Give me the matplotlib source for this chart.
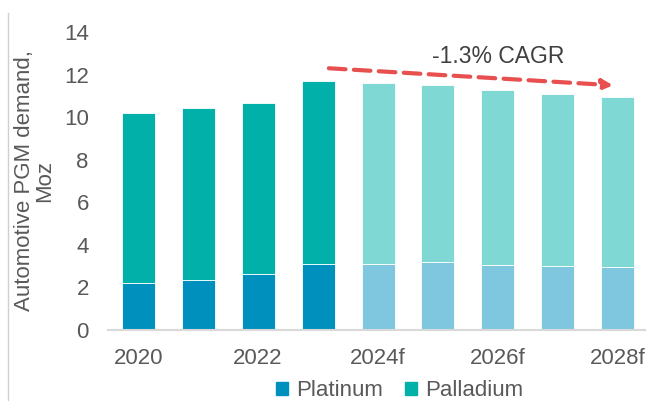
import matplotlib
matplotlib.use("Agg")
import matplotlib.pyplot as plt
from matplotlib.lines import Line2D
from matplotlib.patches import Patch

plt.rcParams['font.family'] = ['Liberation Sans', 'DejaVu Sans']

# data
years = ["2020", "2021", "2022", "2023", "2024f", "2025f", "2026f", "2027f", "2028f"]
platinum = [2.2, 2.37, 2.65, 3.12, 3.12, 3.18, 3.07, 3.03, 2.98]
total = [10.18, 10.45, 10.68, 11.72, 11.62, 11.49, 11.28, 11.1, 10.93]
palladium = [t - p for t, p in zip(total, platinum)]
forecast = [False, False, False, False, True, True, True, True, True]
tick_labels = ["2020", "", "2022", "", "2024f", "", "2026f", "", "2028f"]
cagr_label = "-1.3% CAGR"

pt_col, pt_light = "#0090be", "#7fc7de"
pd_col, pd_light = "#00b0a9", "#7fd8d4"
grey = "#595959"

fig = plt.figure(figsize=(6.52, 4.01), dpi=100)
ax = fig.add_axes([0.166, 0.177, 0.823, 0.743])

x = list(range(len(years)))
ax.bar(x, platinum, width=0.55,
       color=[pt_light if f else pt_col for f in forecast],
       edgecolor="white", linewidth=0.6)
ax.bar(x, palladium, bottom=platinum, width=0.55,
       color=[pd_light if f else pd_col for f in forecast],
       edgecolor="white", linewidth=0.6)

ax.set_ylim(0, 14)
ax.set_xlim(-0.5, 8.45)
ax.set_yticks(range(0, 15, 2))
ax.set_xticks(x)
ax.set_xticklabels(tick_labels)
ax.tick_params(axis="both", length=0, labelsize=16, colors=grey)
ax.tick_params(axis="x", pad=13)
ax.tick_params(axis="y", pad=14)
for s in ["top", "right", "left"]:
    ax.spines[s].set_visible(False)
ax.spines["bottom"].set_color("#d9d9d9")
ax.spines["bottom"].set_linewidth(1.5)

ax.set_ylabel("Automotive PGM demand,\nMoz", fontsize=16, color=grey,
              linespacing=1.0, labelpad=6)

# CAGR arrow
ax.annotate("", xy=(7.92, 11.5), xytext=(3.18, 12.3),
            arrowprops=dict(arrowstyle="-|>,head_length=0.6,head_width=0.3",
                            color="#e8504f", lw=3, linestyle=(0, (4, 2)),
                            shrinkA=0, shrinkB=0))
ax.text(6.0, 12.85, cagr_label, ha="center", va="center", fontsize=16.5, color="#404040")

handles = [Patch(color=pt_col), Patch(color=pd_col)]
fig.legend(handles, ["Platinum", "Palladium"], loc="center",
           bbox_to_anchor=(400 / 652, 1 - 391 / 401), ncol=2, frameon=False,
           fontsize=16, handlelength=0.5, handleheight=0.5, handletextpad=0.4,
           columnspacing=1.0, labelcolor=grey)

# thin left border line like the source slide
fig.add_artist(Line2D([8 / 652, 8 / 652], [0, 1 - 13 / 401], color="#d0d0d0", lw=1))

fig.savefig("out.png", dpi=100)
